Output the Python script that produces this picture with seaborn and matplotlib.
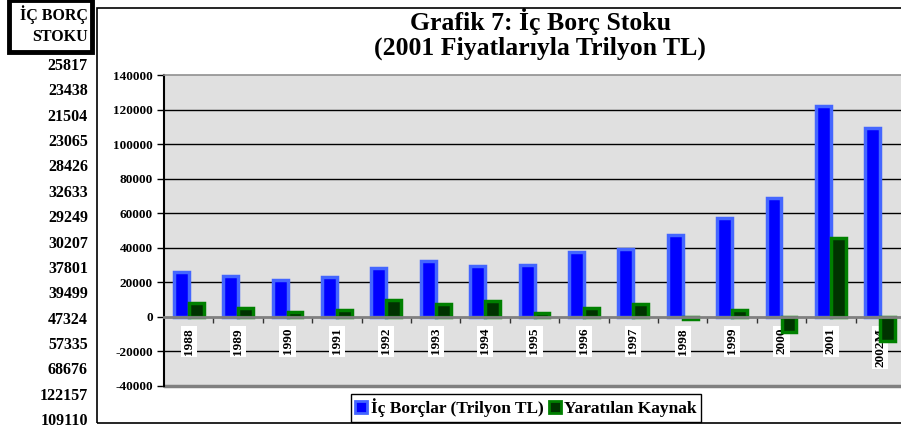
import pandas as pd
import numpy as np
import matplotlib
matplotlib.use("Agg")
import matplotlib.pyplot as plt
import seaborn as sns
from matplotlib.patches import Rectangle

# data
years = ['1988', '1989', '1990', '1991', '1992', '1993', '1994', '1995',
         '1996', '1997', '1998', '1999', '2000', '2001', '2002M']
ic_borc = [25817, 23438, 21504, 23065, 28426, 32633, 29249, 30207,
           37801, 39499, 47324, 57335, 68676, 122157, 109110]
kaynak = [8000, 5400, 2700, 4000, 9800, 7700, 9100, 2500,
          5400, 7700, -1500, 4000, -9000, 45900, -14000]
series_names = ['İç Borçlar (Trilyon TL)', 'Yaratılan Kaynak']
table_header = 'İÇ BORÇ\nSTOKU'

df = pd.DataFrame({
    'yil': years * 2,
    'deger': ic_borc + kaynak,
    'seri': [series_names[0]] * len(years) + [series_names[1]] * len(years),
})

sns.set_theme(style='white')
plt.rcParams['font.family'] = ['Liberation Serif', 'DejaVu Serif']
plt.rcParams['font.weight'] = 'bold'
plt.rcParams['text.color'] = 'black'
plt.rcParams['xtick.color'] = 'black'
plt.rcParams['ytick.color'] = 'black'
plt.rcParams['xtick.labelcolor'] = 'black'
plt.rcParams['ytick.labelcolor'] = 'black'

W, H = 901, 428
fig = plt.figure(figsize=(W / 100, H / 100), dpi=100)
fig.patch.set_facecolor('white')

def fx(px):
    return px / W

def fy(py):
    return 1 - py / H

# chart frame
fig.add_artist(Rectangle((fx(97), fy(423)), fx(830), fy(8) - fy(423),
                         transform=fig.transFigure, fill=False,
                         edgecolor='black', lw=1.2))

ax = fig.add_axes([fx(164), fy(386), fx(905 - 164), fy(75) - fy(386)])
ax.set_facecolor('#e0e0e0')

sns.barplot(data=df, x='yil', y='deger', hue='seri',
            palette=['#0000ff', '#003300'], saturation=1, width=0.6, ax=ax,
            linewidth=2.5, legend=True)

edge_cols = ['#4466ff', '#008000']
for cont, ec in zip(ax.containers, edge_cols):
    for p in cont:
        p.set_edgecolor(ec)
        p.set_linewidth(2.5)

ax.set_ylim(-40000, 140000)
ax.set_xlim(-0.5, len(years) - 0.5)
ax.set_yticks(np.arange(-40000, 140001, 20000))
ax.set_yticklabels([f'{int(v)}' for v in ax.get_yticks()])
for v in ax.get_yticks():
    if v not in (0, 140000, -40000):
        ax.axhline(v, color='black', lw=1, zorder=0.5)

ax.set_xlabel('')
ax.set_ylabel('')

# spines
ax.spines['right'].set_visible(False)
ax.spines['top'].set_color('#909090')
ax.spines['top'].set_linewidth(1.2)
ax.spines['left'].set_color('black')
ax.spines['left'].set_linewidth(1.5)
ax.spines['bottom'].set_position(('data', 0))
ax.spines['bottom'].set_color('#808080')
ax.spines['bottom'].set_linewidth(2)
ax.plot([0, 1], [0, 0], transform=ax.transAxes, color='#808080', lw=2.5,
        clip_on=False)

ax.tick_params(axis='y', left=True, length=5, width=1, color='black',
               labelsize=9.5, pad=3)
ax.set_xticks(np.arange(len(years)))
ax.set_xticks(np.arange(len(years)) + 0.5, minor=True)
ax.tick_params(axis='x', which='major', length=0, pad=8, labelsize=9.5,
               rotation=90)
ax.tick_params(axis='x', which='minor', bottom=True, length=4, width=1,
               color='#333333', direction='out')
for lab in ax.get_xticklabels():
    lab.set_fontweight('bold')
    lab.set_va('top')
    lab.set_bbox(dict(facecolor='white', edgecolor='none', pad=1.5))
for lab in ax.get_yticklabels():
    lab.set_fontweight('bold')

# legend
handles, labels = ax.get_legend_handles_labels()
for h, ec in zip(handles, edge_cols):
    h.set_edgecolor(ec)
    h.set_linewidth(2)
ax.legend(handles, labels, loc='center', bbox_to_anchor=(fx(526), fy(408)),
          bbox_transform=fig.transFigure, ncol=2, frameon=True,
          fancybox=False, edgecolor='black', framealpha=1,
          prop={'family': 'Liberation Serif', 'weight': 'bold', 'size': 12.5},
          handlelength=0.7, handleheight=0.7, handletextpad=0.2,
          columnspacing=0.3, borderpad=0.25, borderaxespad=0)
ax.get_legend().get_frame().set_linewidth(1)

# title
fig.text(fx(540), fy(34), 'Grafik 7: İç Borç Stoku\n(2001 Fiyatlarıyla Trilyon TL)',
         ha='center', va='center', fontsize=18.5, fontweight='bold',
         linespacing=1.08)

# left table column
fig.add_artist(Rectangle((fx(9), fy(52)), fx(83), fy(0) - fy(52),
                         transform=fig.transFigure, fill=False,
                         edgecolor='black', lw=3.5))
fig.text(fx(88), fy(25), table_header, ha='right', va='center',
         fontsize=11.5, fontweight='bold', linespacing=1.45)
for i, v in enumerate(ic_borc):
    fig.text(fx(88), fy(66 + 25.36 * i), str(v), ha='right', va='center',
             fontsize=11.5, fontweight='bold')

fig.savefig('out.png', dpi=100, facecolor='white')
